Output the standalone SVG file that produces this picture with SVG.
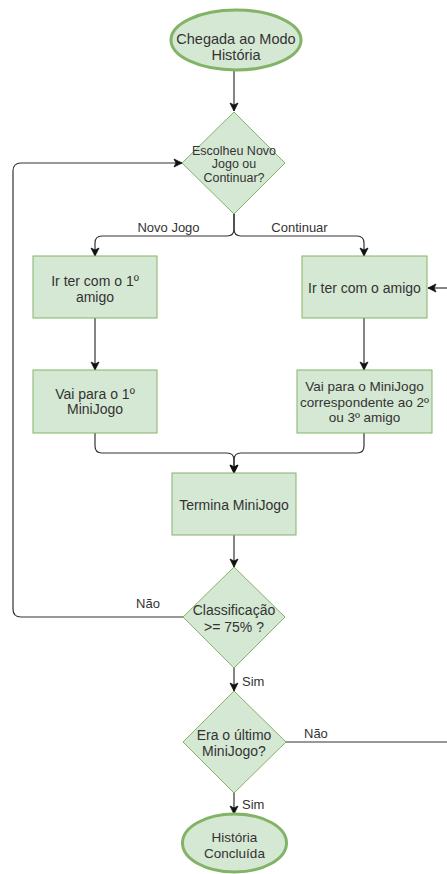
<svg xmlns="http://www.w3.org/2000/svg" width="447" height="874" viewBox="0 0 447 874">
  <style>
    .node { fill: #d5e8d4; stroke: #82b366; stroke-width: 1; }
    .term { fill: #d5e8d4; stroke: #82b366; stroke-width: 3; }
    .txt { font-family: "Liberation Sans", Arial, sans-serif; fill: #333333; text-anchor: middle; }
    .lbl { font-family: "Liberation Sans", Arial, sans-serif; fill: #333333; font-size: 13px; }
    .edge { fill: none; stroke: #333333; stroke-width: 1.2; }
  </style>
  <defs>
    <marker id="arrow" markerUnits="userSpaceOnUse" markerWidth="10" markerHeight="10" viewBox="0 0 10 10" refX="9" refY="5" orient="auto">
      <path d="M1,1 L9,5 L1,9 L3,5 Z" fill="#111111" stroke="#111111" stroke-width="0.8"/>
    </marker>
  </defs>

  <rect width="447" height="874" fill="#ffffff"/>

  <!-- connectors -->
  <g id="edges">
    <path class="edge" d="M234,71 V111" marker-end="url(#arrow)"/>
    <path class="edge" d="M234,214 V229 Q234,236 227,236 H102 Q95,236 95,243 V256" marker-end="url(#arrow)"/>
    <path class="edge" d="M234,214 V229 Q234,236 241,236 H357 Q364,236 364,243 V256" marker-end="url(#arrow)"/>
    <path class="edge" d="M95,318 V370" marker-end="url(#arrow)"/>
    <path class="edge" d="M364,318 V370" marker-end="url(#arrow)"/>
    <path class="edge" d="M95,433 V446 Q95,453 102,453 H227 Q234,453 234,460 V473" marker-end="url(#arrow)"/>
    <path class="edge" d="M364,433 V446 Q364,453 357,453 H241 Q234,453 234,460 V473" marker-end="url(#arrow)"/>
    <path class="edge" d="M234,535 V567" marker-end="url(#arrow)"/>
    <path class="edge" d="M183,617 H21 Q13,617 13,609 V171 Q13,163 21,163 H182" marker-end="url(#arrow)"/>
    <path class="edge" d="M234,668 V691" marker-end="url(#arrow)"/>
    <path class="edge" d="M234,793 V814" marker-end="url(#arrow)"/>
    <path class="edge" d="M286,742 H447"/>
    <path class="edge" d="M447,288 H428" marker-end="url(#arrow)"/>

    <text class="lbl" x="168.5" y="231.5" text-anchor="middle">Novo Jogo</text>
    <text class="lbl" x="299.5" y="231.5" text-anchor="middle">Continuar</text>
    <text class="lbl" x="148" y="608" text-anchor="middle" font-size="14">Não</text>
    <text class="lbl" x="242" y="686" font-size="14">Sim</text>
    <text class="lbl" x="304" y="738" font-size="14">Não</text>
    <text class="lbl" x="242" y="809" font-size="14">Sim</text>
  </g>

  <g id="start">
    <ellipse class="term" cx="236" cy="40" rx="65" ry="30"/>
    <text class="txt" font-size="14.5" x="236" y="44">Chegada ao Modo</text>
    <text class="txt" font-size="14.5" x="236" y="60">História</text>
  </g>

  <g id="choice">
    <polygon class="node" points="234,112 285,163 234,214 182,163"/>
    <text class="txt" font-size="12.5" x="234" y="154.5">Escolheu Novo</text>
    <text class="txt" font-size="12.5" x="234" y="168">Jogo ou</text>
    <text class="txt" font-size="12.5" x="234" y="181.5">Continuar?</text>
  </g>

  <g id="first-friend">
    <rect class="node" x="33" y="256" width="124" height="62"/>
    <text class="txt" font-size="14" x="95" y="286">Ir ter com o 1º</text>
    <text class="txt" font-size="14" x="95" y="301.5">amigo</text>
  </g>

  <g id="friend">
    <rect class="node" x="302" y="256" width="125" height="62"/>
    <text class="txt" font-size="14" x="364.5" y="293">Ir ter com o amigo</text>
  </g>

  <g id="first-minigame">
    <rect class="node" x="33" y="370" width="124" height="63"/>
    <text class="txt" font-size="14" x="95" y="398.5">Vai para o 1º</text>
    <text class="txt" font-size="14" x="95" y="414">MiniJogo</text>
  </g>

  <g id="next-minigame">
    <rect class="node" x="297" y="370" width="135" height="63"/>
    <text class="txt" font-size="13.5" x="364.5" y="391">Vai para o MiniJogo</text>
    <text class="txt" font-size="13.5" x="364.5" y="406.5">correspondente ao 2º</text>
    <text class="txt" font-size="13.5" x="364.5" y="422">ou 3º amigo</text>
  </g>

  <g id="end-minigame">
    <rect class="node" x="172" y="473" width="124" height="62"/>
    <text class="txt" font-size="14" x="234" y="510">Termina MiniJogo</text>
  </g>

  <g id="score">
    <polygon class="node" points="234,567 285,617 234,668 183,617"/>
    <text class="txt" font-size="14" x="234" y="615">Classificação</text>
    <text class="txt" font-size="14" x="234" y="631.5">&gt;= 75% ?</text>
  </g>

  <g id="last">
    <polygon class="node" points="234,691 286,742 234,793 183,742"/>
    <text class="txt" font-size="14" x="234" y="740">Era o último</text>
    <text class="txt" font-size="14" x="234" y="755.5">MiniJogo?</text>
  </g>

  <g id="done">
    <ellipse class="term" cx="234.5" cy="843" rx="52" ry="29"/>
    <text class="txt" font-size="13.5" x="234.5" y="842">História</text>
    <text class="txt" font-size="13.5" x="234.5" y="858">Concluída</text>
  </g>
</svg>
